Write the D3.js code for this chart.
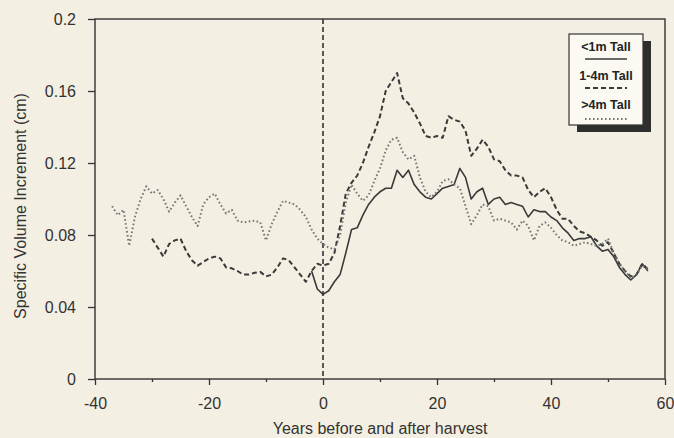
<!DOCTYPE html>
<html lang="en">
<head>
    <meta charset="utf-8" />
    <script src="https://d3js.org/d3.v7.min.js"></script>
    <title>Specific Volume Increment</title>
    <style>
        body { margin: 0; background: #f3efe2; }
        svg { display: block; font-family: "Liberation Sans", Arial, sans-serif; }
    </style>
</head>
<body>
    <script>
        // Data (yearly values)
        const yearsSmall = d3.range(-2, 58);
        const smallTrees = [0.060, 0.050, 0.047, 0.049, 0.054, 0.058, 0.070, 0.083, 0.084, 0.091,
            0.097, 0.101, 0.104, 0.106, 0.106, 0.116, 0.112, 0.116, 0.108, 0.104,
            0.101, 0.100, 0.103, 0.106, 0.107, 0.108, 0.117, 0.112, 0.100, 0.104,
            0.106, 0.097, 0.100, 0.101, 0.097, 0.098, 0.097, 0.096, 0.090, 0.094,
            0.093, 0.093, 0.090, 0.088, 0.084, 0.081, 0.077, 0.078, 0.078, 0.079,
            0.074, 0.071, 0.072, 0.068, 0.062, 0.058, 0.055, 0.058, 0.064, 0.060];

        const yearsMid = d3.range(-30, 58);
        const midTrees = [0.078, 0.073, 0.068, 0.075, 0.077, 0.078, 0.071, 0.066, 0.063, 0.065,
            0.067, 0.068, 0.067, 0.062, 0.0615, 0.060, 0.058, 0.058, 0.059, 0.0595,
            0.057, 0.058, 0.062, 0.067, 0.066, 0.062, 0.058, 0.054, 0.060, 0.064,
            0.063, 0.064, 0.070, 0.085, 0.103, 0.109, 0.113, 0.120, 0.129, 0.137,
            0.146, 0.160, 0.165, 0.170, 0.156, 0.153, 0.148, 0.142, 0.135, 0.134,
            0.135, 0.134, 0.146, 0.144, 0.143, 0.138, 0.124, 0.128, 0.133, 0.129,
            0.122, 0.121, 0.116, 0.113, 0.113, 0.112, 0.105, 0.101, 0.104, 0.106,
            0.101, 0.094, 0.089, 0.089, 0.085, 0.082, 0.081, 0.079, 0.077, 0.074,
            0.076, 0.070, 0.064, 0.060, 0.057, 0.058, 0.064, 0.061];

        const yearsTall = d3.range(-37, 58);
        const tallTrees = [0.096, 0.091, 0.094, 0.074, 0.090, 0.100, 0.107, 0.103, 0.105, 0.100,
            0.093, 0.098, 0.102, 0.096, 0.090, 0.085, 0.097, 0.101, 0.103, 0.097,
            0.092, 0.094, 0.088, 0.087, 0.0875, 0.088, 0.087, 0.077, 0.086, 0.093,
            0.099, 0.098, 0.097, 0.094, 0.090, 0.083, 0.078, 0.075, 0.073, 0.072,
            0.080, 0.098, 0.108, 0.103, 0.099, 0.102, 0.110, 0.117, 0.127, 0.133,
            0.134, 0.126, 0.122, 0.124, 0.112, 0.104, 0.101, 0.104, 0.110, 0.111,
            0.108, 0.106, 0.096, 0.086, 0.091, 0.097, 0.096, 0.088, 0.089, 0.088,
            0.087, 0.083, 0.088, 0.085, 0.077, 0.085, 0.087, 0.084, 0.080, 0.077,
            0.076, 0.074, 0.075, 0.076, 0.075, 0.074, 0.075, 0.078, 0.070, 0.064,
            0.060, 0.056, 0.058, 0.063, 0.061];

        const legendLabels = ["<1m Tall", "1-4m Tall", ">4m Tall"];
        const xMajorTicks = [-40, -20, 0, 20, 40, 60];
        const xMinorTicks = [-30, -10, 10, 30, 50];
        const yTicks = [0, 0.04, 0.08, 0.12, 0.16, 0.2];

        const width = 674;
        const height = 438;
        const ink = "#333";

        const series = [
            { years: yearsSmall, values: smallTrees, dash: null, color: "#3a3a3a", w: 1.6 },
            { years: yearsMid, values: midTrees, dash: "5,3", color: "#3a3a3a", w: 2 },
            { years: yearsTall, values: tallTrees, dash: "1.6,2.4", color: "#777", w: 2 }
        ];

        const svg = d3.select("body")
            .append("svg")
            .attr("width", width)
            .attr("height", height);

        const x = d3.scaleLinear().domain([-40, 60]).range([95, 665]);
        const y = d3.scaleLinear().domain([0, 0.2]).range([379, 19]);

        // x axis: major and minor ticks (plain hyphen for negatives, like the original)
        svg.append("g")
            .attr("transform", "translate(0," + y(0) + ")")
            .call(d3.axisBottom(x).tickValues(xMajorTicks).tickSize(6).tickPadding(13).tickFormat(d => String(d)));
        svg.append("g")
            .attr("transform", "translate(0," + y(0) + ")")
            .call(d3.axisBottom(x).tickValues(xMinorTicks).tickSize(3).tickFormat(""));

        // y axis
        svg.append("g")
            .attr("transform", "translate(" + x(-40) + ",0)")
            .call(d3.axisLeft(y).tickValues(yTicks).tickSize(7).tickPadding(12)
                .tickFormat(d => String(+d.toFixed(2))));

        svg.selectAll(".domain").remove();
        svg.selectAll(".tick line").attr("stroke", ink).attr("stroke-width", 1.3);
        svg.selectAll(".tick text")
            .attr("fill", ink)
            .style("font-size", "16px")
            .style("font-family", "'Liberation Sans', Arial, sans-serif");

        // plot frame
        svg.append("rect")
            .attr("x", x(-40))
            .attr("y", y(0.2))
            .attr("width", x(60) - x(-40))
            .attr("height", y(0) - y(0.2))
            .attr("fill", "none")
            .attr("stroke", ink)
            .attr("stroke-width", 1.4);

        // harvest line
        svg.append("line")
            .attr("x1", x(0)).attr("x2", x(0))
            .attr("y1", y(0.2)).attr("y2", y(0))
            .attr("stroke", ink)
            .attr("stroke-width", 1.6)
            .attr("stroke-dasharray", "5,3");

        const line = d3.line()
            .x(d => x(d[0]))
            .y(d => y(d[1]));

        svg.selectAll("path.series")
            .data(series)
            .enter()
            .append("path")
            .attr("class", "series")
            .attr("d", s => line(s.years.map((yr, i) => [yr, s.values[i]])))
            .attr("fill", "none")
            .attr("stroke", s => s.color)
            .attr("stroke-width", s => s.w)
            .attr("stroke-dasharray", s => s.dash)
            .attr("stroke-linejoin", "round");

        // axis titles
        svg.append("text")
            .attr("x", 380)
            .attr("y", 434)
            .attr("text-anchor", "middle")
            .attr("fill", ink)
            .style("font-size", "16px")
            .text("Years before and after harvest");

        svg.append("text")
            .attr("transform", "translate(26,206) rotate(-90)")
            .attr("text-anchor", "middle")
            .attr("fill", ink)
            .style("font-size", "16px")
            .text("Specific Volume Increment (cm)");

        // legend with drop shadow
        const legend = svg.append("g").attr("transform", "translate(569,34)");
        legend.append("rect")
            .attr("x", 8).attr("y", 7)
            .attr("width", 74).attr("height", 91)
            .attr("fill", "#2e2e2e");
        legend.append("rect")
            .attr("width", 74).attr("height", 91)
            .attr("fill", "#fbf9f2")
            .attr("stroke", ink)
            .attr("stroke-width", 1.2);

        const items = legend.selectAll("g.item")
            .data(series)
            .enter()
            .append("g")
            .attr("class", "item")
            .attr("transform", (d, i) => "translate(0," + (i * 29) + ")");
        items.append("text")
            .attr("x", 37)
            .attr("y", 17)
            .attr("text-anchor", "middle")
            .attr("fill", "#222")
            .style("font-size", "12.5px")
            .style("font-weight", "bold")
            .text((d, i) => legendLabels[i]);
        items.append("line")
            .attr("x1", 16).attr("x2", 58)
            .attr("y1", (d, i) => i === 2 ? 27 : 25)
            .attr("y2", (d, i) => i === 2 ? 27 : 25)
            .attr("stroke", d => d.color)
            .attr("stroke-width", d => d.w)
            .attr("stroke-dasharray", d => d.dash);
    </script>
</body>
</html>
